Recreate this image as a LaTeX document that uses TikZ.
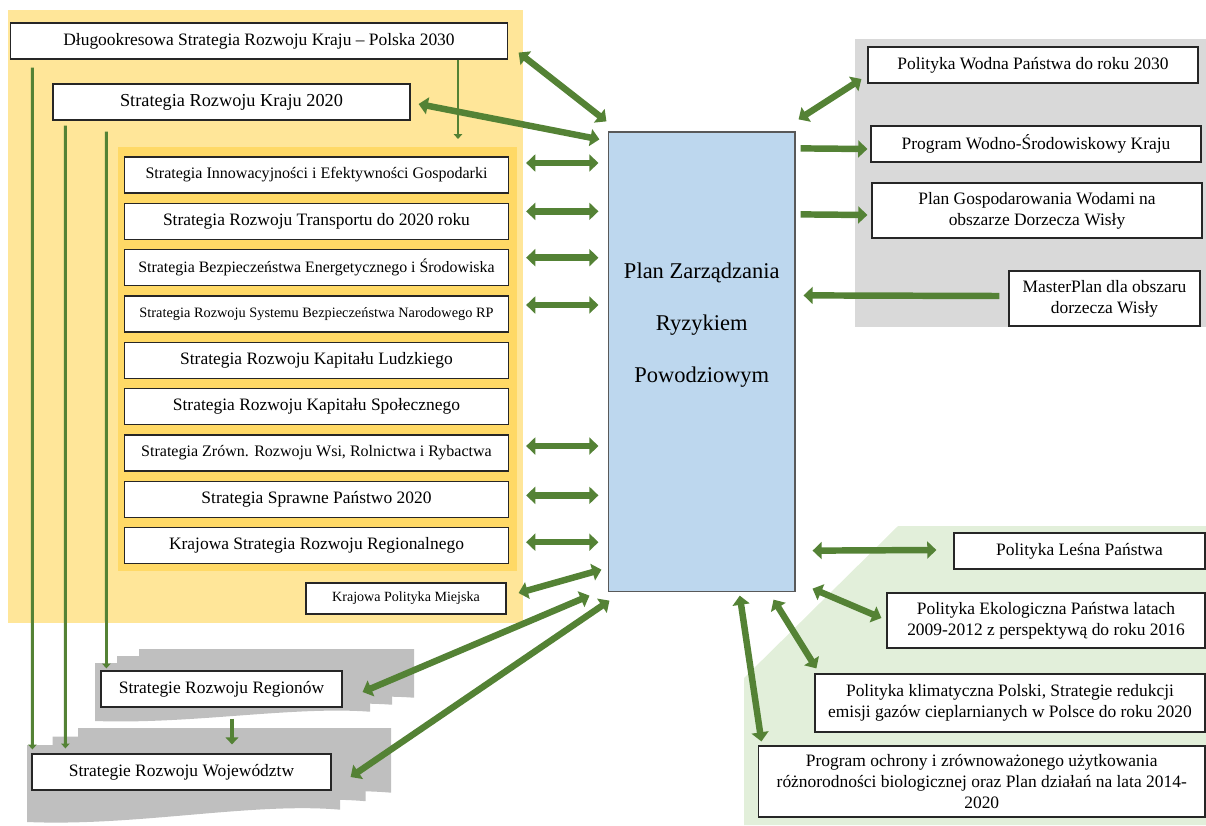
\documentclass[tikz,border=0pt]{standalone}
\usepackage{fontspec}
\setmainfont{Liberation Serif}
\usepackage{tikz}
\usetikzlibrary{positioning,calc,arrows.meta}

\definecolor{bgyellow}{HTML}{FFE699}
\definecolor{inyellow}{HTML}{FFD966}
\definecolor{bggrey}{HTML}{D9D9D9}
\definecolor{bggreen}{HTML}{E2EFDA}
\definecolor{planblue}{HTML}{BDD7EE}
\definecolor{docgrey}{HTML}{BFBFBF}
\definecolor{arrgreen}{HTML}{548235}

% one sheet of a stacked document: x, y, width, height
\newcommand{\docsheet}[4]{%
  \fill[docgrey] (#1,#2) -- ({#1+#3},#2) -- ({#1+#3},{#2+0.84*#4})
    .. controls ({#1+0.72*#3},{#2+0.74*#4}) and ({#1+0.35*#3},{#2+1.06*#4}) .. (#1,{#2+#4}) -- cycle;}

\begin{document}
\begin{tikzpicture}[x=0.025cm, y=-0.025cm,
    box/.style={rectangle, draw=black!85, line width=0.8pt, fill=white, inner sep=1pt, align=center, font=\fontsize{12.4}{15}\selectfont},
    wide/.style={box, minimum width=9.6cm, minimum height=0.9cm},
    dbl/.style={draw=arrgreen, line width=4.6pt, {Triangle[length=6.5pt,width=12pt]}-{Triangle[length=6.5pt,width=12pt]}},
    sgl/.style={draw=arrgreen, line width=4.6pt, -{Triangle[length=6.5pt,width=12pt]}},
    sglsmall/.style={draw=arrgreen, line width=3.5pt, -{Triangle[length=5pt,width=9pt]}},
    link/.style={draw=arrgreen, line width=2pt, -{Triangle[length=3.5pt,width=6pt]}}
]
    \useasboundingbox (0,0) rectangle (1206,825);

    \fill[bgyellow] (8,10) rectangle (523,623);
    \fill[inyellow] (118,147) rectangle (517,571);
    \fill[bggrey] (855,39) rectangle (1206,327);
    \fill[bggreen] (744,825) -- (744,678) -- (898,526) -- (1206,526) -- (1206,825) -- cycle;

    \foreach \i in {2,1,0} \docsheet{95+22*\i}{663-7*\i}{275}{58};
    \foreach \i in {2,1,0} \docsheet{27+25.5*\i}{745-8.5*\i}{313}{77};

    \node[box, minimum width=12.4cm, minimum height=0.9cm] (dlugo) at (259,41) {Długookresowa Strategia Rozwoju Kraju – Polska 2030};
    \node[box, minimum width=8.925cm, minimum height=0.9cm, font=\fontsize{13}{15}\selectfont] (srk) at (231.5,102) {Strategia Rozwoju Kraju 2020};

    \node[wide, font=\fontsize{11.4}{14}\selectfont] (s1) at (316.5,175) {Strategia Innowacyjności i Efektywności Gospodarki};
    \node[wide, below=0.23cm of s1] (s2) {Strategia Rozwoju Transportu do 2020 roku};
    \node[wide, below=0.23cm of s2, font=\fontsize{11.3}{14}\selectfont] (s3) {Strategia Bezpieczeństwa Energetycznego i Środowiska};
    \node[wide, below=0.23cm of s3, font=\fontsize{10.2}{12}\selectfont] (s4) {Strategia Rozwoju Systemu Bezpieczeństwa Narodowego RP};
    \node[wide, below=0.23cm of s4] (s5) {Strategia Rozwoju Kapitału Ludzkiego};
    \node[wide, below=0.23cm of s5] (s6) {Strategia Rozwoju Kapitału Społecznego};
    \node[wide, below=0.23cm of s6, font=\fontsize{11.4}{14}\selectfont] (s7) {Strategia Zrówn. Rozwoju Wsi, Rolnictwa i Rybactwa};
    \node[wide, below=0.23cm of s7] (s8) {Strategia Sprawne Państwo 2020};
    \node[wide, below=0.23cm of s8] (s9) {Krajowa Strategia Rozwoju Regionalnego};
    \coordinate (inblk) at (458,139);

    \node[box, minimum width=5cm, minimum height=0.775cm, font=\fontsize{10}{12}\selectfont] (miejska) at (406,598.5) {Krajowa Polityka Miejska};

    \node[box, minimum width=6.025cm, minimum height=0.9cm] (reg) at (221.5,689) {Strategie Rozwoju Regionów};
    \node[box, minimum width=7.475cm, minimum height=0.9cm] (woj) at (181.5,772) {Strategie Rozwoju Województw};

    \node[rectangle, draw=black!65, line width=0.8pt, fill=planblue, minimum width=4.66cm, minimum height=11.475cm] (plan) at (701.75,361.5) {};
    \node[align=center, font=\fontsize{16}{37}\selectfont] (plantext) at (701.75,325.5) {Plan Zarządzania\\Ryzykiem\\Powodziowym};

    \node[box, minimum width=8.25cm, minimum height=0.9cm] (wodna) at (1033,65) {Polityka Wodna Państwa do roku 2030};
    \node[box, minimum width=8.25cm, minimum height=0.9cm] (wodsr) at (1036,144) {Program Wodno-Środowiskowy Kraju};
    \node[box, minimum width=8.25cm, minimum height=1.375cm] (gosp) at (1037,210.5) {Plan Gospodarowania Wodami na\\obszarze Dorzecza Wisły};
    \node[box, minimum width=4.775cm, minimum height=1.375cm] (master) at (1104.5,298.5) {MasterPlan dla obszaru\\dorzecza Wisły};

    \node[box, minimum width=6.275cm, minimum height=0.9cm] (lesna) at (1079.5,551) {Polityka Leśna Państwa};
    \node[box, minimum width=7.95cm, minimum height=1.375cm] (eko) at (1046,620.5) {Polityka Ekologiczna Państwa latach\\2009-2012 z perspektywą do roku 2016};
    \node[box, minimum width=9.75cm, minimum height=1.45cm] (klim) at (1010,703) {Polityka klimatyczna Polski, Strategie redukcji\\emisji gazów cieplarnianych w Polsce do roku 2020};
    \node[box, minimum width=11.16cm, minimum height=1.775cm] (ochr) at (981.75,781.5) {Program ochrony i zrównoważonego użytkowania\\różnorodności biologicznej oraz Plan działań na lata 2014-\\2020};

    \draw[link] (dlugo.south -| inblk) -- (inblk);
    \draw[link] ([shift={(22,8)}]dlugo.south west) -- ([shift={(1,-4)}]woj.north west);
    \draw[link] ([shift={(13,5)}]srk.south west) -- ([shift={(34,-5)}]woj.north west);
    \draw[link] ([shift={(54,11)}]srk.south west) -- ([shift={(6,-2)}]reg.north west);
    \draw[sglsmall] ([shift={(10.5,11)}]reg.south) -- ([shift={(50.5,-9)}]woj.north);

    \draw[dbl] ([shift={(11,-7)}]dlugo.south east) -- ([shift={(-1.5,-10)}]plan.north west);
    \draw[dbl] ([shift={(8,2)}]srk.east) -- ([shift={(-8.5,8)}]plan.north west);
    \foreach \n/\dy in {s1/-12, s2/-10, s3/-10, s4/-9, s7/-7, s8/-4, s9/-3.5}
        \draw[dbl] ($(\n.east)+(17,\dy)$) -- ($(\n.east -| plan.west)+(-9.5,\dy)$);
    \draw[dbl] ([shift={(12,-5.5)}]miejska.east) -- ([shift={(-6.5,-22)}]plan.south west);
    \draw[dbl] ([shift={(20,3)}]reg.east) -- ([shift={(-18.5,4)}]plan.south west);
    \draw[dbl] ([shift={(19,5)}]woj.east) -- ([shift={(1.5,9)}]plan.south west);

    \draw[dbl] ([shift={(3,-12)}]plan.north east) -- ([shift={(-6,14)}]wodna.west);
    \draw[sgl] ([shift={(5,17)}]plan.north east) -- ([shift={(-3,5)}]wodsr.west);
    \draw[sgl] ([shift={(5,83)}]plan.north east) -- ([shift={(-4,4.5)}]gosp.west);
    \draw[sgl] ([shift={(-9,-2.5)}]master.west) -- ([shift={(8,164)}]plan.north east);

    \draw[dbl] ([shift={(17,-41)}]plan.south east) -- ([shift={(-17,-1)}]lesna.west);
    \draw[dbl] ([shift={(17,-3)}]plan.south east) -- ([shift={(-5,-2.5)}]eko.west);
    \draw[dbl] ([shift={(-22,8)}]plan.south east) -- ([shift={(2,-5)}]klim.north west);
    \draw[dbl] ([shift={(38,4)}]plan.south) -- ([shift={(3.5,-4)}]ochr.north west);
\end{tikzpicture}
\end{document}
